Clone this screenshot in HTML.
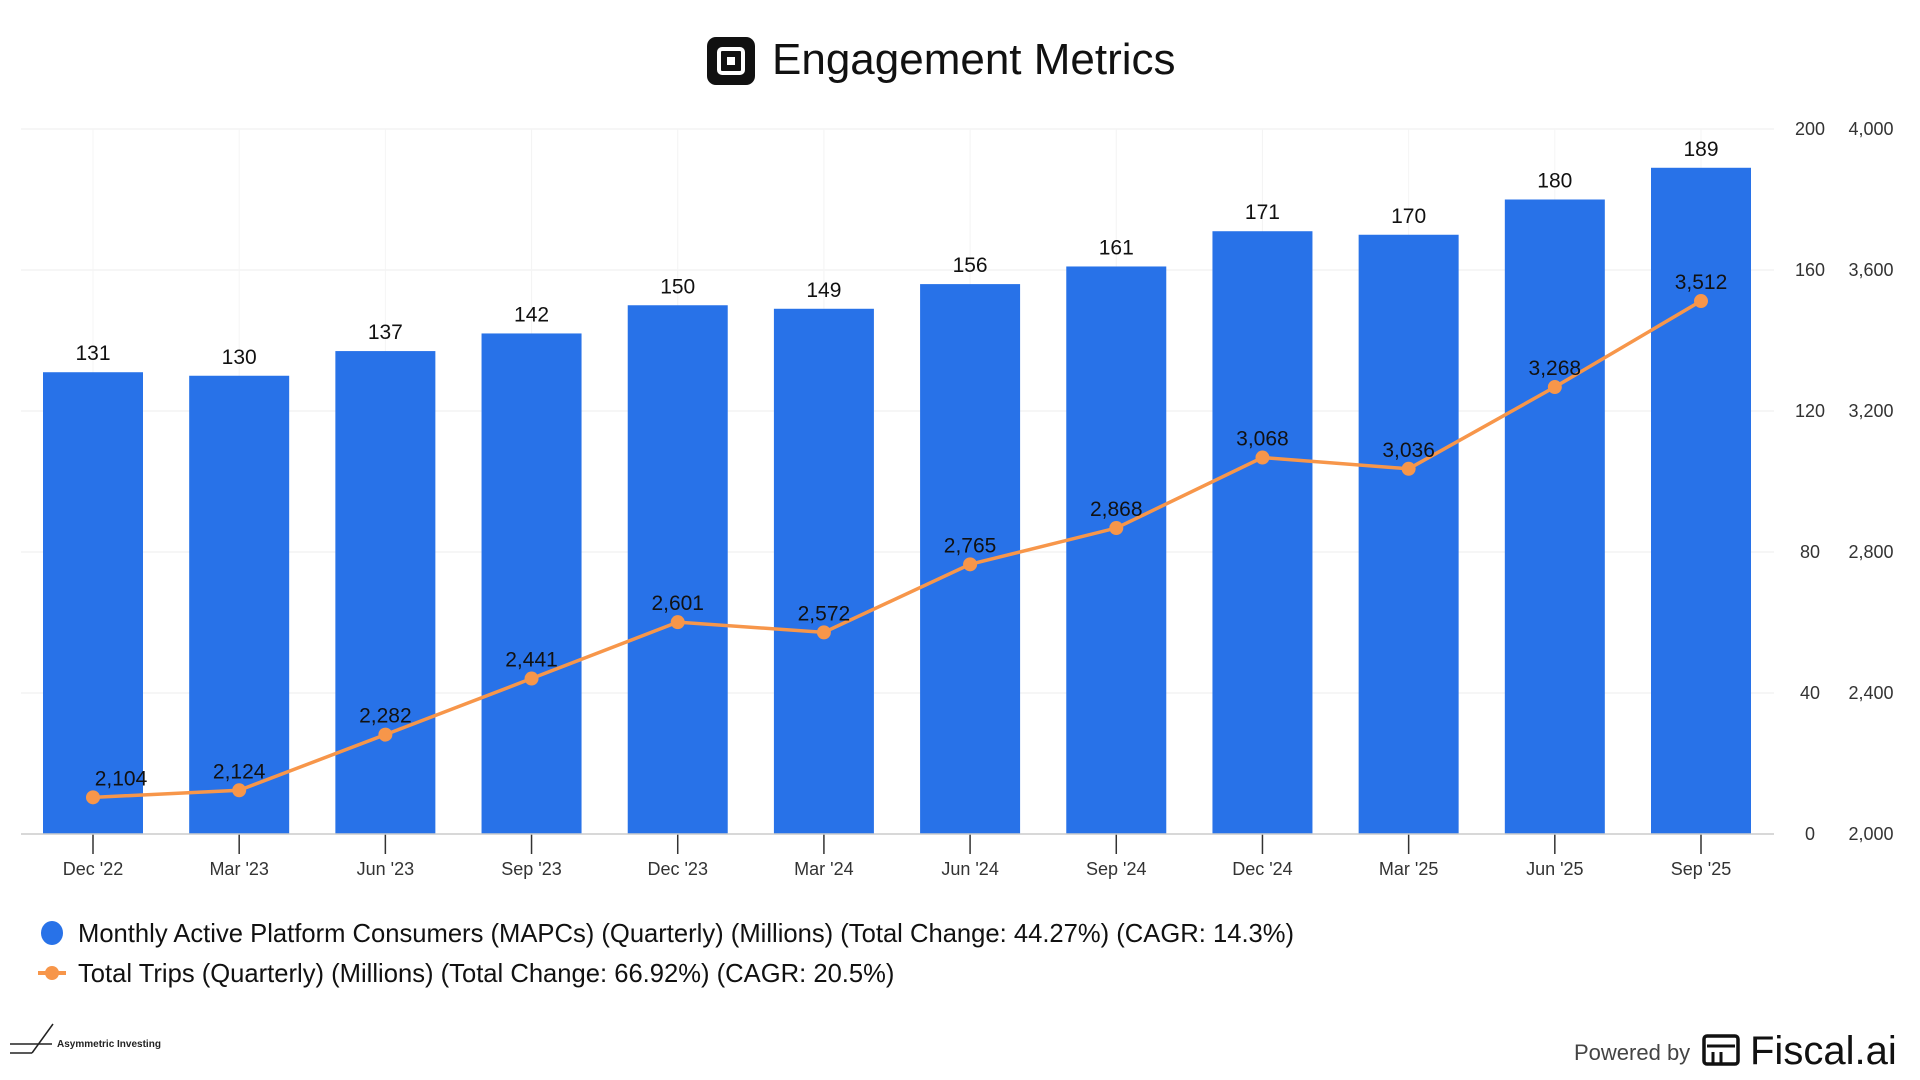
<!DOCTYPE html>
<html><head><meta charset="utf-8"><style>
html,body{margin:0;padding:0;background:#fff;width:1920px;height:1080px;overflow:hidden;font-family:"Liberation Sans",sans-serif;}
</style></head><body>
<svg id="chart" width="1920" height="1080" xmlns="http://www.w3.org/2000/svg">
  <g>
    <rect x="707" y="37" width="48" height="48" rx="9" fill="#111"/>
    <rect x="719" y="49" width="24" height="24" rx="3" fill="none" stroke="#fff" stroke-width="4"/>
    <rect x="727" y="57" width="8" height="8" fill="#fff"/>
    <text x="772" y="74" font-size="44" fill="#111">Engagement Metrics</text>
  </g>
  <g id="grid"></g>
  <g id="bars"></g>
  <g id="line"></g>
  <g id="axes"></g>
  <g>
    <g>
      <ellipse cx="52" cy="933" rx="11" ry="12" fill="#2872E8"/>
      <text x="78" y="942" font-size="25.6" fill="#111">Monthly Active Platform Consumers (MAPCs) (Quarterly) (Millions) (Total Change: 44.27%) (CAGR: 14.3%)</text>
    </g>
    <g>
      <line x1="38" y1="973" x2="66" y2="973" stroke="#F7964A" stroke-width="4"/>
      <circle cx="52" cy="973" r="7" fill="#F7964A"/>
      <text x="78" y="982" font-size="25.6" fill="#111">Total Trips (Quarterly) (Millions) (Total Change: 66.92%) (CAGR: 20.5%)</text>
    </g>
  </g>
  <g>
    <line x1="10" y1="1044" x2="52" y2="1044" stroke="#222" stroke-width="1.5"/>
    <line x1="10" y1="1053" x2="32" y2="1053" stroke="#222" stroke-width="1.5"/>
    <line x1="32" y1="1053" x2="53" y2="1024" stroke="#222" stroke-width="1.5"/>
    <text x="57" y="1047" font-size="10" font-weight="bold" fill="#222">Asymmetric Investing</text>
  </g>
  <g>
    <text x="1574" y="1060" font-size="22" fill="#444">Powered by</text>
    <rect x="1704" y="1036" width="34" height="28" rx="3" fill="none" stroke="#111" stroke-width="3.5"/>
    <line x1="1707" y1="1046" x2="1735" y2="1046" stroke="#111" stroke-width="3"/>
    <line x1="1713" y1="1052" x2="1713" y2="1064" stroke="#111" stroke-width="3"/>
    <line x1="1721" y1="1052" x2="1721" y2="1064" stroke="#111" stroke-width="3"/>
    <text x="1750" y="1064" font-size="40" fill="#111">Fiscal.ai</text>
  </g>
</svg>
<script>
const categories=["Dec '22","Mar '23","Jun '23","Sep '23","Dec '23","Mar '24","Jun '24","Sep '24","Dec '24","Mar '25","Jun '25","Sep '25"];
const mapcs=[131,130,137,142,150,149,156,161,171,170,180,189];
const trips=[2104,2124,2282,2441,2601,2572,2765,2868,3068,3036,3268,3512];
const leftTicks=[0,40,80,120,160,200];
const rightTicks=[2000,2400,2800,3200,3600,4000];
const NS="http://www.w3.org/2000/svg";
const plotL=21,plotR=1774,base=834,plotT=129;
const x0=93,step=(1701-93)/11,bw=100;
function xs(i){return x0+i*step;}
function yL(v){return base-(v-0)/(200-0)*(base-plotT);}
function yR(v){return base-(v-2000)/(4000-2000)*(base-plotT);}
function fmt(v){return v.toLocaleString('en-US');}
function el(tag,attrs,parent,text){const e=document.createElementNS(NS,tag);for(const k in attrs)e.setAttribute(k,attrs[k]);if(text!==undefined)e.textContent=text;parent.appendChild(e);return e;}
const grid=document.getElementById('grid'),bars=document.getElementById('bars'),line=document.getElementById('line'),axes=document.getElementById('axes');
leftTicks.forEach((t,i)=>{
  const y=yL(t);
  if(i>0){const g=el('line',{x1:plotL,x2:plotR,y1:y,y2:y,stroke:'#eeeeee','stroke-width':1},grid);
  
  }
  const a=el('text',{x:1810,y:y+6,'font-size':18,fill:'#333','text-anchor':'middle'},axes,String(t));
  
  
});
rightTicks.forEach(t=>{
  const b=el('text',{x:1871,y:yR(t)+6,'font-size':18,fill:'#333','text-anchor':'middle'},axes,fmt(t));
  
  
});
categories.forEach((c,i)=>{
  const vg=el('line',{x1:xs(i),x2:xs(i),y1:plotT,y2:base,stroke:'#f4f4f4','stroke-width':1},grid);
  
  
  const r=el('rect',{x:xs(i)-bw/2,y:yL(mapcs[i]),width:bw,height:base-yL(mapcs[i]),fill:'#2872E8'},bars);
  
  
  const l=el('text',{x:xs(i),y:yL(mapcs[i])-12,'font-size':21,fill:'#111','text-anchor':'middle'},bars,String(mapcs[i]));
  
  
  const tk=el('line',{x1:xs(i),x2:xs(i),y1:base,y2:base+20,stroke:'#333','stroke-width':1.5},axes);
  
  
  const xl=el('text',{x:xs(i),y:875,'font-size':18,fill:'#333','text-anchor':'middle'},axes,c);
  
  
});
const ax=el('line',{x1:plotL,x2:plotR,y1:base,y2:base,stroke:'#ccc','stroke-width':1.5},axes);


const pts=trips.map((v,i)=>xs(i)+','+yR(v)).join(' ');
const pl=el('polyline',{points:pts,fill:'none',stroke:'#F7964A','stroke-width':3.5},line);


trips.forEach((v,i)=>{
  const c=el('circle',{cx:xs(i),cy:yR(v),r:7,fill:'#F7964A'},line);
  
  
  const t=el('text',{x:xs(i)+(i===0?28:0),y:yR(v)-12,'font-size':21,fill:'#111','text-anchor':'middle'},line,fmt(v));
  
  
});
</script>
</body></html>
